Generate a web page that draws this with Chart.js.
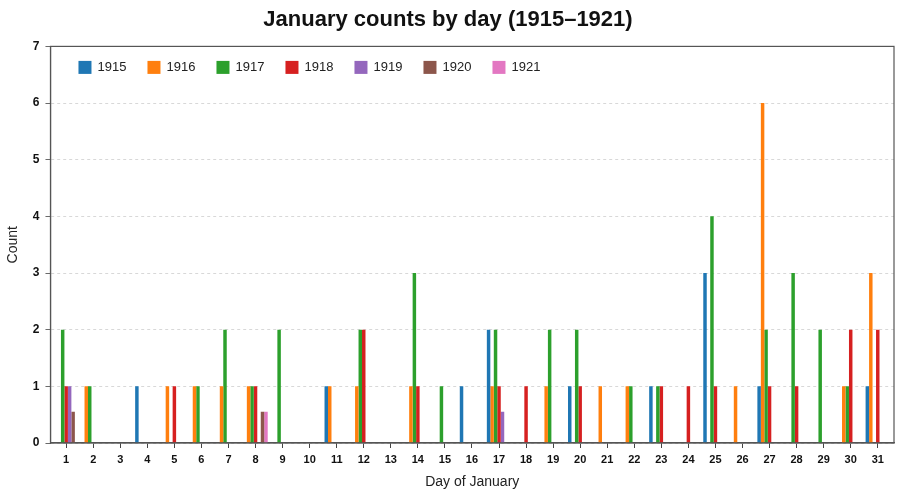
<!DOCTYPE html>
<html>
<head>
<meta charset="utf-8">
<title>January counts by day</title>
<script src="https://cdn.jsdelivr.net/npm/chart.js@4.4.1/dist/chart.umd.min.js"></script>
<style>
  html, body { margin: 0; padding: 0; background: #fff; }
  #wrap { width: 900px; height: 493px; }
</style>
</head>
<body>
<div id="wrap"><canvas id="chart"></canvas></div>
<script>
// Data
const days = [1,2,3,4,5,6,7,8,9,10,11,12,13,14,15,16,17,18,19,20,21,22,23,24,25,26,27,28,29,30,31];
const years = ['1915', '1916', '1917', '1918', '1919', '1920', '1921'];
const c1915 = [0,0,0,1,0,0,0,0,0,0,1,0,0,0,0,1,2,0,0,1,0,0,1,0,3,0,1,0,0,0,1];
const c1916 = [0,1,0,0,1,1,1,1,0,0,1,1,0,1,0,0,1,0,1,0,1,1,0,0,0,1,6,0,0,1,3];
const c1917 = [2,1,0,0,0,1,2,1,2,0,0,2,0,3,1,0,2,0,2,2,0,1,1,0,4,0,2,3,2,1,0];
const c1918 = [1,0,0,0,1,0,0,1,0,0,0,2,0,1,0,0,1,1,0,1,0,0,1,1,1,0,1,1,0,2,2];
const c1919 = [1,0,0,0,0,0,0,0,0,0,0,0,0,0,0,0,0.55,0,0,0,0,0,0,0,0,0,0,0,0,0,0];
const c1920 = [0.55,0,0,0,0,0,0,0.55,0,0,0,0,0,0,0,0,0,0,0,0,0,0,0,0,0,0,0,0,0,0,0];
const c1921 = [0,0,0,0,0,0,0,0.55,0,0,0,0,0,0,0,0,0,0,0,0,0,0,0,0,0,0,0,0,0,0,0];
const yTicks = [0,1,2,3,4,5,6,7];

const series = [c1915, c1916, c1917, c1918, c1919, c1920, c1921];
const colors = ['#1f77b4', '#ff7f0e', '#2ca02c', '#d62020', '#9467bd', '#8c564b', '#e377c2'];
const FONT = '"Liberation Sans", Arial, Helvetica, sans-serif';

// box around the plot area
const framePlugin = {
    id: 'frame',
    afterDatasetsDraw(chart) {
        const a = chart.chartArea;
        const ctx = chart.ctx;
        ctx.save();
        ctx.strokeStyle = '#555';
        ctx.lineWidth = 1.2;
        ctx.strokeRect(a.left, a.top, a.right - a.left, a.bottom - a.top);
        ctx.restore();
    }
};

// legend drawn inside the plot, top-left
const innerLegend = {
    id: 'innerLegend',
    afterDraw(chart) {
        const a = chart.chartArea;
        const ctx = chart.ctx;
        ctx.save();
        ctx.font = '13px ' + FONT;
        ctx.textBaseline = 'middle';
        let x = a.left + 28;
        const y = a.top + 21;
        chart.data.datasets.forEach(ds => {
            ctx.fillStyle = ds.backgroundColor;
            ctx.fillRect(x, y - 6.5, 13, 13);
            ctx.fillStyle = '#222';
            ctx.fillText(ds.label, x + 19, y);
            x += 69;
        });
        ctx.restore();
    }
};

new Chart(document.getElementById('chart'), {
    type: 'bar',
    data: {
        labels: days,
        datasets: years.map((y, i) => ({
            label: y,
            data: series[i],
            backgroundColor: colors[i],
            borderWidth: 0,
            categoryPercentage: 0.9,
            barPercentage: 1.0
        }))
    },
    options: {
        responsive: true,
        maintainAspectRatio: false,
        animation: false,
        layout: { padding: { left: 2, right: 6, top: 0, bottom: 2 } },
        plugins: {
            legend: { display: false },
            tooltip: { enabled: false },
            title: {
                display: true,
                text: 'January counts by day (1915\u20131921)',
                color: '#111',
                font: { family: FONT, size: 22, weight: 'bold' },
                padding: { top: 7, bottom: 13 }
            }
        },
        scales: {
            x: {
                type: 'linear',
                min: 0.42,
                max: 31.6,
                offset: false,
                afterBuildTicks(scale) {
                    scale.ticks = days.map(v => ({ value: v }));
                },
                ticks: {
                    autoSkip: false,
                    maxRotation: 0,
                    color: '#111',
                    padding: 5,
                    font: { family: FONT, size: 11, weight: 'bold' }
                },
                grid: {
                    offset: false,
                    drawOnChartArea: false,
                    drawTicks: true,
                    tickLength: 5,
                    tickColor: '#444'
                },
                border: { color: '#555', width: 1.2 },
                title: {
                    display: true,
                    text: 'Day of January',
                    color: '#222',
                    font: { family: FONT, size: 14 },
                    padding: { top: 3, bottom: 0 }
                }
            },
            y: {
                min: 0,
                max: 7,
                afterBuildTicks(scale) {
                    scale.ticks = yTicks.map(v => ({ value: v }));
                },
                ticks: {
                    color: '#111',
                    padding: 6,
                    font: { family: FONT, size: 12, weight: 'bold' }
                },
                grid: {
                    color: '#cfcfcf',
                    lineWidth: 0.8,
                    tickBorderDash: [],
                    tickColor: '#444',
                    tickLength: 5
                },
                border: { color: '#555', width: 1.2, dash: [3, 3] },
                title: {
                    display: true,
                    text: 'Count',
                    color: '#222',
                    font: { family: FONT, size: 14 },
                    padding: { top: 3, bottom: 5 }
                }
            }
        }
    },
    plugins: [framePlugin, innerLegend]
});
</script>
</body>
</html>
